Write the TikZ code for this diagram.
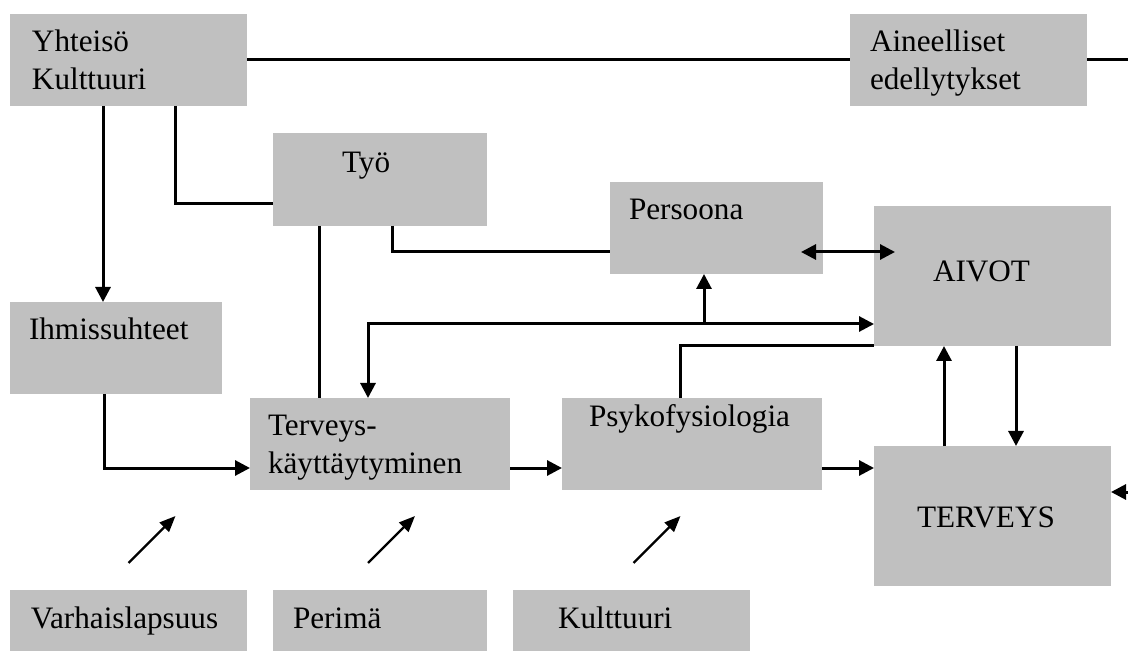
\documentclass[tikz,border=0pt]{standalone}
\usepackage{fontspec}
\setmainfont{Liberation Serif}
\usetikzlibrary{arrows.meta}
\definecolor{boxgray}{HTML}{C0C0C0}
\tikzset{
  box/.style={fill=boxgray, anchor=north west, align=left, inner ysep=0pt, outer sep=0pt},
  ln/.style={line width=1.5pt},
  arr/.style={ln, -{Triangle[length=7.5pt,width=7.5pt]}},
  dbl/.style={ln, {Triangle[length=7.5pt,width=7.5pt]}-{Triangle[length=7.5pt,width=7.5pt]}},
  dg/.style={line width=1.2pt, -{Triangle[length=8pt,width=6.5pt]}}
}
\begin{document}
\begin{tikzpicture}[x=0.5pt, y=-0.5pt, font=\fontsize{15.6}{19}\selectfont] % one unit is one pixel, y down
    \useasboundingbox (0,0) rectangle (1128,651);
    % Draw boxes
    \node[box, inner xsep=11pt, text width=96.5pt, text height=19pt, text depth=27pt] (yht) at (10,14) {Yhteisö\\Kulttuuri};
    \node[box, inner xsep=10pt, text width=98.5pt, text height=19pt, text depth=27pt] (ain) at (850,14) {Aineelliset\\edellytykset};
    \node[box, inner xsep=34.5pt, text width=38pt, text height=20pt, text depth=26.5pt] (tyo) at (273,133) {Työ};
    \node[box, inner xsep=9.5pt, text width=87.5pt, text height=19pt, text depth=27pt] (per) at (610,182) {Persoona};
    \node[box, inner xsep=29.5pt, text width=59.5pt, text height=38pt, text depth=32pt] (aiv) at (874,206) {AIVOT};
    \node[box, inner xsep=9.5pt, text width=87pt, text height=19pt, text depth=27pt] (ihm) at (10,302) {Ihmissuhteet};
    \node[box, inner xsep=9pt, text width=112pt, text height=19pt, text depth=27pt] (ter) at (250,398) {Terveys-\\käyttäytyminen};
    \node[box, inner xsep=13.5pt, text width=103pt, text height=14.5pt, text depth=31.5pt] (psy) at (562,398) {Psykofysiologia};
    \node[box, inner xsep=21.5pt, text width=75.5pt, text height=40.5pt, text depth=29.5pt] (trv) at (874,446) {TERVEYS};
    \node[box, inner xsep=10.5pt, text width=97.5pt, text height=19pt, text depth=11.5pt] (var) at (10,590) {Varhaislapsuus};
    \node[box, inner xsep=10pt, text width=87pt, text height=19pt, text depth=11.5pt] (prm) at (273,590) {Perimä};
    \node[box, inner xsep=22.5pt, text width=73.5pt, text height=19pt, text depth=11.5pt] (kul) at (513,590) {Kulttuuri};
    % Draw top line
    \coordinate (rtop) at (1128,60);
    \draw[ln] (yht) -- (ain);
    \draw[ln] (ain) -- (rtop);
    % Draw lines from Yhteisö and Työ
    \draw[arr] ([xshift=46.5pt]yht.south west) -- ([xshift=46.5pt]ihm.north west);
    \draw[ln] ([xshift=82.5pt]yht.south west) |- ([yshift=-12pt]tyo.west);
    \draw[ln] ([xshift=23pt]tyo.south west) -- ([xshift=34.5pt]ter.north west);
    \draw[ln] ([xshift=59.5pt]tyo.south west) |- ([yshift=-12pt]per.west);
    % Draw links round AIVOT
    \draw[dbl] ([shift={(-11pt,-12pt)}]per.east) -- ([shift={(10.5pt,12pt)}]aiv.west);
    \draw[dbl] ([yshift=-24pt]aiv.west) -| ([xshift=59pt]ter.north west);
    \draw[arr] ([shift={(47pt,-25pt)}]per.south west) -- ([xshift=47pt]per.south west);
    \draw[ln] ([xshift=59pt]psy.north west) |- (aiv.south west);
    \draw[arr] ([xshift=35pt]trv.north west) -- ([xshift=35pt]aiv.south west);
    \draw[arr] ([xshift=71pt]aiv.south west) -- ([xshift=71pt]trv.north west);
    % Draw middle row
    \draw[arr] ([xshift=47pt]ihm.south west) |- ([yshift=-12pt]ter.west);
    \draw[arr] ([yshift=-12pt]ter.east) -- ([yshift=-12pt]psy.west);
    \draw[arr] ([yshift=-12pt]psy.east) -- ([yshift=24pt]trv.west);
    \coordinate (rin) at (1128,492);
    \draw[arr] (rin) -- ([yshift=12pt]trv.east);
    % Draw diagonal arrows
    \draw[dg] ([yshift=13.5pt]var.north) -- ++(47,-47);
    \draw[dg] ([shift={(-6pt,13.5pt)}]prm.north) -- ++(47,-47);
    \draw[dg] ([shift={(1pt,13.5pt)}]kul.north) -- ++(47,-47);
\end{tikzpicture}
\end{document}
